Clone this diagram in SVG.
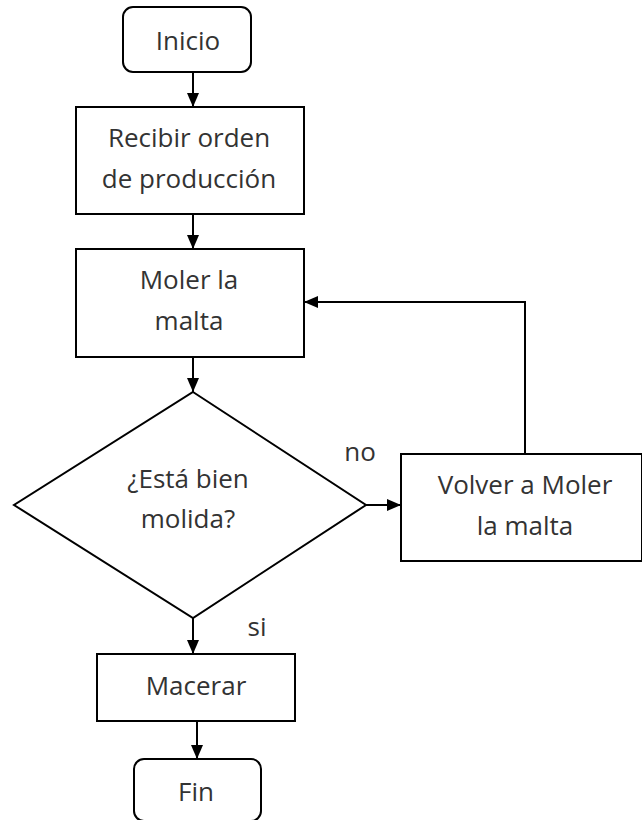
<svg xmlns="http://www.w3.org/2000/svg" width="642" height="820" viewBox="0 0 642 820">
<style>
.shape{fill:#fff;stroke:#000;stroke-width:2}
.lbl{font-family:"Open Sans","Noto Sans",sans-serif;font-size:26px;fill:#333;text-anchor:middle}
.conn{fill:none;stroke:#000;stroke-width:2}
</style>
<defs>
<marker id="arr" viewBox="0 0 14 12" refX="14" refY="6" markerWidth="14" markerHeight="12" markerUnits="userSpaceOnUse" orient="auto">
<path d="M0,0 L14,6 L0,12 Z" fill="#000"/>
</marker>
</defs>
<rect width="642" height="820" fill="#fff"/>
<g id="inicio"><rect class="shape" x="123" y="7" width="128" height="65" rx="10"/><text class="lbl" x="188" y="50">Inicio</text></g>
<g id="recibir"><rect class="shape" x="76" y="107" width="228" height="107"/><text class="lbl" x="189" y="147">Recibir orden</text><text class="lbl" x="189" y="188">de producción</text></g>
<g id="moler"><rect class="shape" x="76" y="249" width="228" height="108"/><text class="lbl" x="189" y="289">Moler la</text><text class="lbl" x="189" y="330">malta</text></g>
<g id="decision"><polygon class="shape" points="193,392 366,505 193,618 14,505"/><text class="lbl" x="188" y="488">¿Está bien</text><text class="lbl" x="188" y="528">molida?</text></g>
<g id="volver"><rect class="shape" x="401" y="454" width="241" height="107"/><text class="lbl" x="525" y="494">Volver a Moler</text><text class="lbl" x="525" y="535">la malta</text></g>
<g id="macerar"><rect class="shape" x="97" y="654" width="198" height="67"/><text class="lbl" x="196" y="695">Macerar</text></g>
<g id="fin"><rect class="shape" x="134" y="759" width="127" height="62" rx="10"/><text class="lbl" x="196" y="801">Fin</text></g>
<g id="connectors">
<line class="conn" x1="193" y1="72" x2="193" y2="107" marker-end="url(#arr)"/>
<line class="conn" x1="193" y1="214" x2="193" y2="249" marker-end="url(#arr)"/>
<line class="conn" x1="193" y1="357" x2="193" y2="392" marker-end="url(#arr)"/>
<line class="conn" x1="366" y1="505" x2="401" y2="505" marker-end="url(#arr)"/>
<polyline class="conn" points="525,454 525,302 304,302" marker-end="url(#arr)"/>
<line class="conn" x1="193" y1="618" x2="193" y2="654" marker-end="url(#arr)"/>
<line class="conn" x1="197" y1="721" x2="197" y2="759" marker-end="url(#arr)"/>
<text class="lbl" x="360" y="461">no</text>
<text class="lbl" x="257" y="636">si</text>
</g>
</svg>
